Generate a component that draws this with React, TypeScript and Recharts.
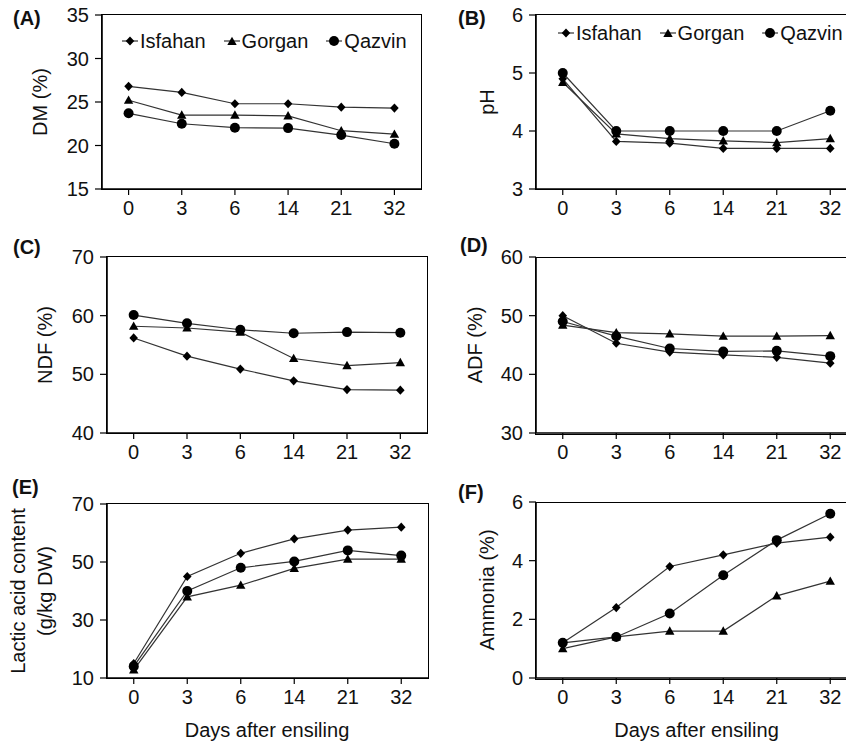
import React from "react";
import { LineChart, Line, XAxis, YAxis } from "recharts";

// sampling days (x categories)
const days = ["0", "3", "6", "14", "21", "32"];

// (A) dry matter, %
const dmIsfahan = [26.8, 26.1, 24.8, 24.8, 24.4, 24.3];
const dmGorgan = [25.2, 23.5, 23.5, 23.4, 21.7, 21.3];
const dmQazvin = [23.7, 22.5, 22.05, 22.0, 21.2, 20.2];

// (B) pH
const phIsfahan = [4.9, 3.82, 3.79, 3.7, 3.7, 3.7];
const phGorgan = [4.84, 3.95, 3.87, 3.83, 3.8, 3.87];
const phQazvin = [5.0, 4.0, 4.0, 4.0, 4.0, 4.35];

// (C) NDF, %
const ndfIsfahan = [56.2, 53.1, 50.9, 48.9, 47.4, 47.3];
const ndfGorgan = [58.2, 57.9, 57.2, 52.7, 51.5, 52.0];
const ndfQazvin = [60.1, 58.7, 57.6, 57.0, 57.2, 57.1];

// (D) ADF, %
const adfIsfahan = [50.0, 45.3, 43.8, 43.3, 42.9, 41.9];
const adfGorgan = [48.4, 47.1, 46.9, 46.5, 46.5, 46.6];
const adfQazvin = [49.0, 46.5, 44.4, 43.9, 44.0, 43.1];

// (E) lactic acid, g/kg DW
const laIsfahan = [15.0, 45.0, 53.0, 58.0, 61.0, 62.0];
const laGorgan = [12.8, 38.0, 42.0, 47.8, 51.0, 51.0];
const laQazvin = [14.0, 40.0, 48.0, 50.2, 54.0, 52.2];

// (F) ammonia, %
const amIsfahan = [1.2, 2.4, 3.8, 4.2, 4.6, 4.8];
const amGorgan = [1.0, 1.4, 1.6, 1.6, 2.8, 3.3];
const amQazvin = [1.2, 1.4, 2.2, 3.5, 4.7, 5.6];

const legendNames = ["Isfahan", "Gorgan", "Qazvin"];

const rows = (a: number[], b: number[], c: number[]) =>
  days.map((d, i) => ({ day: d, isfahan: a[i], gorgan: b[i], qazvin: c[i] }));

const FONT = '"Liberation Sans", Arial, sans-serif';
const INK = "#111";
const LINE = "#333";

function Diamond({ cx, cy, index }: any) {
  if (cx == null || cy == null) return null;
  return (
    <polygon
      key={`dia-${index}`}
      points={`${cx},${cy - 4.6} ${cx + 4.3},${cy} ${cx},${cy + 4.6} ${cx - 4.3},${cy}`}
      fill="#000"
    />
  );
}

function Triangle({ cx, cy, index }: any) {
  if (cx == null || cy == null) return null;
  return (
    <polygon
      key={`tri-${index}`}
      points={`${cx},${cy - 4.8} ${cx + 4.7},${cy + 3.6} ${cx - 4.7},${cy + 3.6}`}
      fill="#000"
    />
  );
}

function Circle({ cx, cy, index }: any) {
  if (cx == null || cy == null) return null;
  return <circle key={`cir-${index}`} cx={cx} cy={cy} r={5} fill="#000" />;
}

function LegendMark({ kind }: { kind: number }) {
  return (
    <svg width={16} height={12} style={{ display: "block", marginRight: 2 }}>
      <line x1={0} y1={6} x2={16} y2={6} stroke={LINE} strokeWidth={1.2} />
      {kind === 0 && <Diamond cx={8} cy={6} />}
      {kind === 1 && <Triangle cx={8} cy={6.5} />}
      {kind === 2 && <Circle cx={8} cy={6} />}
    </svg>
  );
}

function SeriesLegend({ x, y }: { x: number; y: number }) {
  return (
    <div
      style={{
        position: "absolute",
        left: x,
        top: y - 12,
        height: 24,
        display: "flex",
        alignItems: "center",
        fontFamily: FONT,
        fontSize: 20,
        color: INK,
        whiteSpace: "nowrap",
      }}
    >
      {legendNames.map((n, i) => (
        <div key={n} style={{ display: "flex", alignItems: "center", marginRight: 18 }}>
          <LegendMark kind={i} />
          <span>{n}</span>
        </div>
      ))}
    </div>
  );
}

type Panel = {
  tag: string;
  tagX: number;
  tagY: number;
  left: number;
  top: number;
  w: number;
  h: number;
  domain: [number, number];
  ticks: number[];
  title: string[];
  titleX: number;
  data: any[];
  legend?: { x: number; y: number };
  xTitle?: boolean;
};

const panels: Panel[] = [
  { tag: "(A)", tagX: 13, tagY: 18, left: 102, top: 15, w: 319, h: 174, domain: [15, 35], ticks: [15, 20, 25, 30, 35], title: ["DM (%)"], titleX: 40, data: rows(dmIsfahan, dmGorgan, dmQazvin), legend: { x: 122, y: 41 } },
  { tag: "(B)", tagX: 458, tagY: 18, left: 535.5, top: 15, w: 321, h: 174, domain: [3, 6], ticks: [3, 4, 5, 6], title: ["pH"], titleX: 487, data: rows(phIsfahan, phGorgan, phQazvin), legend: { x: 558, y: 33 } },
  { tag: "(C)", tagX: 13, tagY: 247, left: 106.7, top: 257, w: 320, h: 176, domain: [40, 70], ticks: [40, 50, 60, 70], title: ["NDF (%)"], titleX: 45, data: rows(ndfIsfahan, ndfGorgan, ndfQazvin) },
  { tag: "(D)", tagX: 460, tagY: 245, left: 535.5, top: 257.3, w: 321, h: 176, domain: [30, 60], ticks: [30, 40, 50, 60], title: ["ADF (%)"], titleX: 475, data: rows(adfIsfahan, adfGorgan, adfQazvin) },
  { tag: "(E)", tagX: 12, tagY: 487, left: 106.5, top: 504, w: 321, h: 174, domain: [10, 70], ticks: [10, 30, 50, 70], title: ["Lactic acid content", "(g/kg DW)"], titleX: 31.5, data: rows(laIsfahan, laGorgan, laQazvin), xTitle: true },
  { tag: "(F)", tagX: 458, tagY: 492, left: 536, top: 502.3, w: 321, h: 176, domain: [0, 6], ticks: [0, 2, 4, 6], title: ["Ammonia (%)"], titleX: 487, data: rows(amIsfahan, amGorgan, amQazvin), xTitle: true },
];

const YW = 100; // y-axis band width
const MT = 20; // top margin
const MR = 20; // right margin
const XH = 70; // x-axis band height

function PanelChart({ p }: { p: Panel }) {
  const band = p.w / days.length;
  const tick = { fontSize: 20, fill: INK, fontFamily: FONT };
  const axisLine = { stroke: "#000", strokeWidth: 1.6 };
  return (
    <>
      {/* frame (top / right edges of the plot box) */}
      <div
        style={{
          position: "absolute",
          left: p.left - 0.8,
          top: p.top - 0.8,
          width: p.w,
          height: p.h,
          border: "1.6px solid #000",
          pointerEvents: "none",
        }}
      />
      <div style={{ position: "absolute", left: p.left - YW, top: p.top - MT }}>
        <LineChart
          width={p.w + YW + MR}
          height={p.h + MT + XH}
          data={p.data}
          margin={{ top: MT, right: MR, bottom: 0, left: 0 }}
        >
          <XAxis
            dataKey="day"
            interval={0}
            padding={{ left: band / 2, right: band / 2 }}
            height={XH}
            tick={tick}
            tickSize={6}
            tickMargin={6}
            axisLine={axisLine}
            tickLine={{ stroke: "#000", strokeWidth: 1.2 }}
          />
          <YAxis
            type="number"
            domain={p.domain}
            ticks={p.ticks}
            allowDataOverflow
            width={YW}
            tick={tick}
            tickSize={7}
            tickMargin={6}
            axisLine={axisLine}
            tickLine={{ stroke: "#000", strokeWidth: 1.2 }}
          />
          <Line dataKey="isfahan" stroke={LINE} strokeWidth={1.2} dot={Diamond} activeDot={false} isAnimationActive={false} />
          <Line dataKey="gorgan" stroke={LINE} strokeWidth={1.2} dot={Triangle} activeDot={false} isAnimationActive={false} />
          <Line dataKey="qazvin" stroke={LINE} strokeWidth={1.2} dot={Circle} activeDot={false} isAnimationActive={false} />
        </LineChart>
      </div>

      {/* panel tag */}
      <div
        style={{
          position: "absolute",
          left: p.tagX,
          top: p.tagY - 12,
          lineHeight: "24px",
          fontFamily: FONT,
          fontSize: 20,
          fontWeight: 700,
          color: INK,
        }}
      >
        {p.tag}
      </div>

      {/* y title */}
      <div
        style={{
          position: "absolute",
          left: p.titleX,
          top: p.top + p.h / 2,
          transform: "translate(-50%, -50%) rotate(-90deg)",
          fontFamily: FONT,
          fontSize: 20,
          lineHeight: "27px",
          color: INK,
          whiteSpace: "nowrap",
          textAlign: "center",
        }}
      >
        {p.title.map((t) => (
          <div key={t}>{t}</div>
        ))}
      </div>

      {p.legend && <SeriesLegend x={p.legend.x} y={p.legend.y} />}

      {p.xTitle && (
        <div
          style={{
            position: "absolute",
            left: p.left + p.w / 2,
            top: 730,
            transform: "translate(-50%, -50%)",
            fontFamily: FONT,
            fontSize: 20,
            color: INK,
            whiteSpace: "nowrap",
          }}
        >
          Days after ensiling
        </div>
      )}
    </>
  );
}

export default function App() {
  return (
    <div
      style={{
        position: "absolute",
        left: 0,
        top: 0,
        width: 846,
        height: 743,
        overflow: "hidden",
        background: "#fff",
      }}
    >
      {panels.map((p) => (
        <PanelChart key={p.tag} p={p} />
      ))}
    </div>
  );
}
